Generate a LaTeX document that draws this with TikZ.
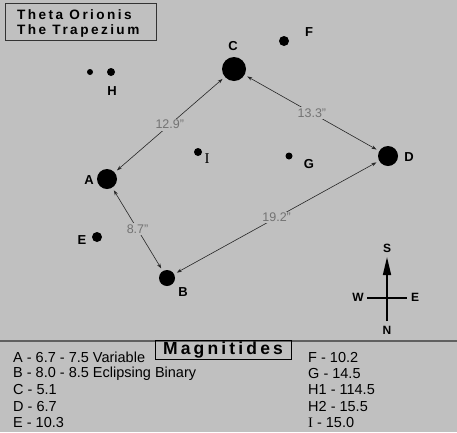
\documentclass[tikz,border=0pt]{standalone}
\usepackage{fontspec}
\setmainfont{Liberation Sans}
\newfontfamily\spacedfont[LetterSpace=18]{Liberation Sans Bold}
\newfontfamily\serifI{Liberation Serif}
\usetikzlibrary{arrows.meta}
\definecolor{skygray}{HTML}{C0C0C0}
\definecolor{seplin}{HTML}{606060}
\tikzset{
  star/.style={circle,fill=black,inner sep=0pt,minimum size=#1},
  starname/.style={font=\bfseries\fontsize{13}{14}\selectfont},
  compassname/.style={font=\bfseries\fontsize{12}{13}\selectfont},
  sep/.style={draw=black!85,<->,>={Stealth[length=5pt,width=3.5pt]},line width=0.6pt,shorten >=3pt,shorten <=3pt},
  seplabel/.style={fill=skygray,text=black!55,inner sep=1.5pt,font=\fontsize{12.5}{13}\selectfont},
  legend/.style={anchor=west,inner sep=0pt,font=\fontsize{14.5}{15}\selectfont}
}
\begin{document}
\begin{tikzpicture}[x=1pt,y=-1pt]
  % Background
  \fill[skygray] (0,0) rectangle (457,432);
  \useasboundingbox (0,0) rectangle (457,432);

  % Title
  \draw[black!80,line width=0.8pt] (5,3) rectangle (156,40);
  \node[anchor=west,inner sep=0pt,font=\spacedfont\fontsize{13.6}{14}\selectfont] (title1) at (17,15) {Theta Orionis};
  \node[anchor=west,inner sep=0pt,font=\spacedfont\fontsize{13.6}{14}\selectfont] (title2) at (17,31) {The Trapezium};

  % Stars
  \node[star=24pt] (C) at (234,69) {};
  \node[star=20pt] (D) at (388,156) {};
  \node[star=20pt] (A) at (107,179) {};
  \node[star=16pt] (B) at (167,278) {};
  \node[star=10pt] (E) at (97,237) {};
  \node[star=10pt] (F) at (284,41) {};
  \node[star=7pt] (G) at (289,156) {};
  \node[star=8pt] (I) at (198,152) {};
  \node[star=6pt] (H1) at (90,72) {};
  \node[star=8pt] (H2) at (111,72) {};

  % Star names
  \node[starname] (Cname) at (233,46) {C};
  \node[starname] (Dname) at (409,157) {D};
  \node[starname] (Aname) at (89,180) {A};
  \node[starname] (Bname) at (183,292) {B};
  \node[starname] (Ename) at (82,240) {E};
  \node[starname] (Fname) at (309,32) {F};
  \node[starname] (Gname) at (309,164) {G};
  \node[starname] (Hname) at (112,91) {H};
  \node[font=\serifI\fontsize{15}{16}\selectfont] (Iname) at (207,159) {I};

  % Separations
  \draw[sep] (C) -- node[seplabel] (CA) {12.9"} (A);
  \draw[sep] (C) -- node[seplabel] (CD) {13.3"} (D);
  \draw[sep] (A) -- node[seplabel] (AB) {8.7"} (B);
  \draw[sep] (B) -- node[seplabel] (BD) {19.2"} (D);

  % Compass
  \coordinate (csouth) at (387,257);
  \coordinate (cnorth) at (387,321);
  \coordinate (cwest) at (367,298);
  \coordinate (ceast) at (407,298);
  \draw[line width=1.6pt,-{Triangle[length=18pt,width=8pt]}] (cnorth) -- (csouth);
  \draw[line width=1.6pt] (cwest) -- (ceast);
  \node[compassname] (S) at (387,248) {S};
  \node[compassname] (N) at (387,330) {N};
  \node[compassname] (W) at (358,297) {W};
  \node[compassname] (Eh) at (415,297) {E};

  % Separator
  \draw[seplin,line width=1.2pt] (0,341) -- (457,341);

  % Magnitudes
  \node[draw=black,line width=0.8pt,inner xsep=4pt,inner ysep=1pt,font=\spacedfont\fontsize{17.5}{18}\selectfont,minimum width=136pt,minimum height=18pt] (mag) at (223,350) {Magnitides};
  \foreach \txt [count=\i from 0] in {A - 6.7 - 7.5 Variable,B - 8.0 - 8.5 Eclipsing Binary,C - 5.1,D - 6.7,E - 10.3}
    \node[legend] (left\i) at (13,357+16.4*\i) {\txt};
  \foreach \txt [count=\i from 0] in {F - 10.2,G - 14.5,H1 - 114.5,H2 - 15.5,{{\serifI I} - 15.0}}
    \node[legend] (right\i) at (308,357+16.4*\i) {\txt};
\end{tikzpicture}
\end{document}
